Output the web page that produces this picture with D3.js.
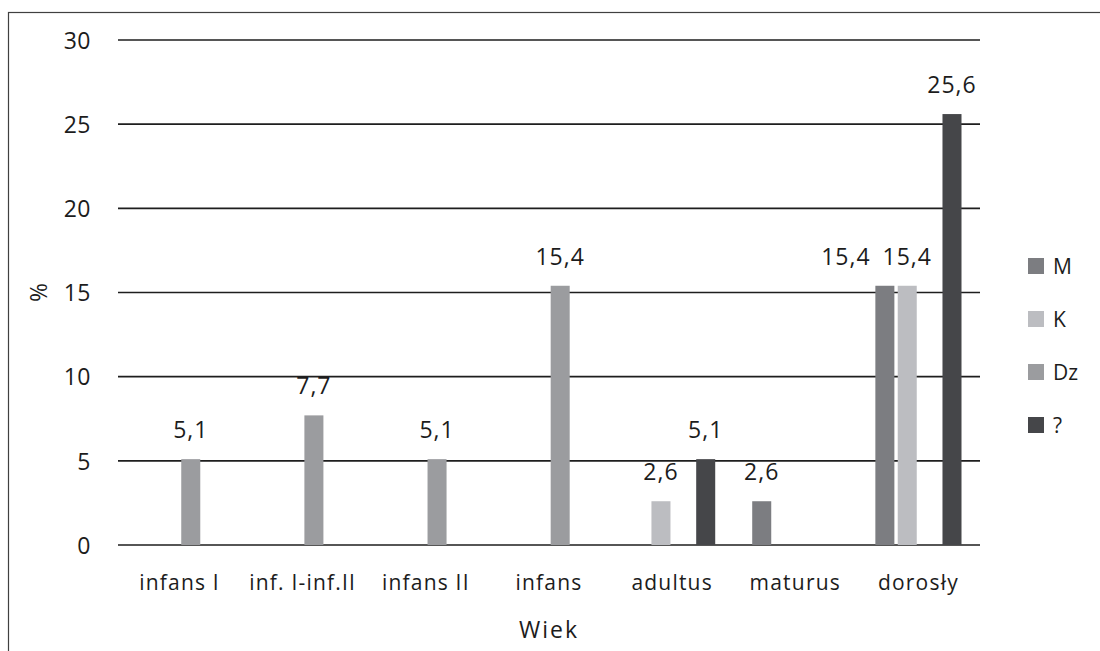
<!DOCTYPE html>
<html>
<head>
<meta charset="utf-8">
<script src="https://cdn.jsdelivr.net/npm/d3@7"></script>
<style>
  html, body { margin: 0; padding: 0; background: #fff; }
  svg { display: block; }
  text { font-family: "Open Sans", "DejaVu Sans", sans-serif; fill: #1c1c1c; }
</style>
</head>
<body>
<svg id="chart" width="1100" height="651"></svg>
<script>
const categories = ["infans I", "inf. I-inf.II", "infans II", "infans", "adultus", "maturus", "dorosły"];
const seriesNames = ["M", "K", "Dz", "?"];
const valuesM  = [null, null, null, null, null, 2.6, 15.4];
const valuesK  = [null, null, null, null, 2.6, null, 15.4];
const valuesDz = [5.1, 7.7, 5.1, 15.4, null, null, null];
const valuesQ  = [null, null, null, null, 5.1, null, 25.6];
const yTicks = [0, 5, 10, 15, 20, 25, 30];
const colors = ["#7c7d81", "#bcbdc1", "#9b9c9f", "#454649"];

(function () {
const seriesValues = [valuesM, valuesK, valuesDz, valuesQ];
const svg = d3.select("#chart");

// frame
svg.append("rect").attr("x", 8.5).attr("y", 12.5).attr("width", 1100).attr("height", 700)
  .attr("fill", "none").attr("stroke", "#404040").attr("stroke-width", 1.2);

const pLeft = 118, pRight = 980, pTop = 40, pBottom = 545;
const x0 = d3.scaleBand().domain(categories).range([pLeft, pRight]).padding(0);
const bw = x0.bandwidth();
const x1 = d3.scaleBand().domain(seriesNames).range([18.5, bw - 18.5]).paddingInner(0.15).paddingOuter(0);
const y = d3.scaleLinear().domain([0, 30]).range([pBottom, pTop]);

// gridlines
svg.append("g").selectAll("line").data(yTicks).join("line")
  .attr("x1", pLeft).attr("x2", pRight)
  .attr("y1", d => y(d)).attr("y2", d => y(d))
  .attr("stroke", "#1e1e1e").attr("stroke-width", 1.6);

// y axis labels
const yAxis = d3.axisLeft(y).tickValues(yTicks).tickSize(0).tickPadding(0);
const gy = svg.append("g").attr("transform", `translate(${91},0)`).call(yAxis);
gy.select(".domain").remove();
gy.attr("font-family", null).attr("font-size", null);
gy.selectAll("text").style("font-size", "23px").style("letter-spacing", "0.5px")
  .attr("fill", "#1c1c1c").attr("dy", "0.36em").attr("x", 0);

// x axis labels
const xAxis = d3.axisBottom(x0).tickSize(0).tickPadding(0);
const gx = svg.append("g").attr("transform", `translate(0,${590})`).call(xAxis);
gx.select(".domain").remove();
gx.attr("font-family", null).attr("font-size", null);
gx.selectAll("text").style("font-size", "21px").style("letter-spacing", "1.2px")
  .attr("fill", "#1c1c1c").attr("dy", 0).attr("y", 0);

// bars
const items = [];
categories.forEach((c, i) => {
  seriesNames.forEach((s, j) => {
    const v = seriesValues[j][i];
    if (v !== null && v !== undefined) items.push({ cat: c, ser: s, si: j, v });
  });
});

svg.append("g").selectAll("rect").data(items).join("rect")
  .attr("x", d => x0(d.cat) + x1(d.ser))
  .attr("width", x1.bandwidth())
  .attr("y", d => y(d.v))
  .attr("height", d => y(0) - y(d.v))
  .attr("fill", d => colors[d.si]);

// value labels
const fmt = v => d3.format(".1f")(v).replace(".", ",");
const labels = svg.append("g").selectAll("text").data(items).join("text")
  .attr("x", d => x0(d.cat) + x1(d.ser) + x1.bandwidth() / 2)
  .attr("y", d => y(d.v) - 21)
  .attr("text-anchor", "middle")
  .style("font-size", "23px")
  .style("letter-spacing", "1px")
  .text(d => fmt(d.v));

// avoid overlaps: shift left label to the left
const nodes = labels.nodes();
for (let k = nodes.length - 1; k > 0; k--) {
  const a = nodes[k - 1], b = nodes[k];
  const da = d3.select(a).datum(), db = d3.select(b).datum();
  if (da.cat !== db.cat) continue;
  if (Math.abs(+a.getAttribute("y") - +b.getAttribute("y")) > 20) continue;
  const ax = +a.getAttribute("x"), bx = +b.getAttribute("x");
  const wa = a.getComputedTextLength(), wb = b.getComputedTextLength();
  const aRight = ax + wa / 2, bLeft = bx - wb / 2;
  const gap = 12;
  if (aRight + gap > bLeft) a.setAttribute("x", ax - (aRight + gap - bLeft));
}

// axis titles
svg.append("text").attr("x", (pLeft + pRight) / 2).attr("y", 638)
  .attr("text-anchor", "middle").style("font-size", "23px").style("letter-spacing", "2px").text("Wiek");
svg.append("text").attr("transform", `translate(${47},${(pTop + pBottom) / 2}) rotate(-90)`)
  .attr("text-anchor", "middle").style("font-size", "23px").text("%");

// legend
const lg = svg.append("g").selectAll("g").data(seriesNames).join("g")
  .attr("transform", (d, i) => `translate(1028,${258 + i * 53})`);
lg.append("rect").attr("width", 16).attr("height", 16).attr("fill", (d, i) => colors[i]);
lg.append("text").attr("x", 25).attr("y", 8).attr("dy", "0.36em")
  .style("font-size", "21px").text(d => d);
})();
</script>
</body>
</html>
